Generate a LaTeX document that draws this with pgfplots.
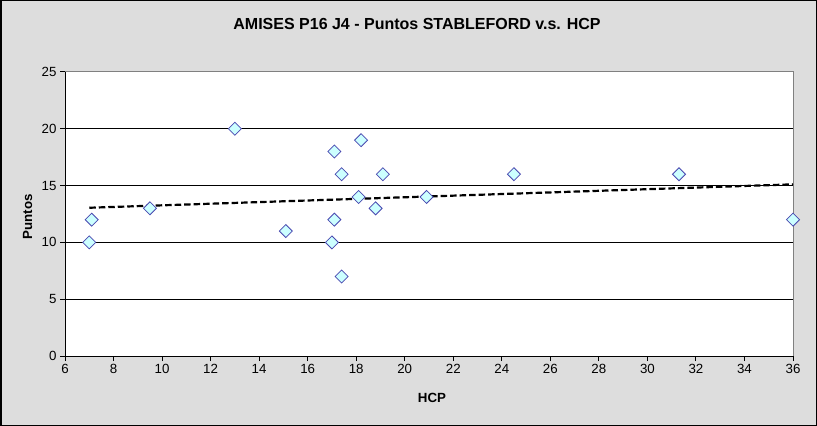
\documentclass[border=0pt]{standalone}
\usepackage{pgfplots}
\pgfplotsset{compat=1.18}
\usepackage{fontspec}
\setmainfont{Liberation Sans}
\definecolor{chartbg}{RGB}{221,221,221}
\definecolor{mkfill}{RGB}{204,255,255}
\definecolor{mkedge}{RGB}{72,72,176}
\begin{document}
\begin{tikzpicture}
\useasboundingbox (0,0) rectangle (817bp,426bp);
\fill[chartbg] (0,0) rectangle (817bp,426bp);
\draw[black, line width=1.5bp] (0.75bp,0.75bp) rectangle (816.25bp,425.25bp);
\begin{axis}[
 at={(65bp,70bp)}, anchor=south west,
 scale only axis, width=728bp, height=284bp,
 xmin=6, xmax=36, ymin=0, ymax=25,
 xtick={6,8,...,36}, ytick={0,25}, extra y ticks={5,10,15,20},
 extra y tick style={grid=major},
 grid style={black, line width=1bp},
 axis x line*=bottom, axis y line*=left,
 axis line style={black, line width=1bp, -},
 tick align=outside, major tick length=5bp,
 tick style={black, line width=1bp},
 axis background/.style={fill=white},
 font=\fontsize{13.3bp}{15bp}\selectfont,
 /pgf/number format/assume math mode=true,
 clip=false,
]
\draw[gray, line width=1bp] (rel axis cs:0,1) -- (rel axis cs:1,1) -- (rel axis cs:1,0);
\addplot[only marks, mark=square*, mark size=4.6bp,
  mark options={rotate=45, fill=mkfill, draw=mkedge, line width=0.8bp}]
  coordinates {
  (7.0,10) (7.1,12) (9.5,13) (13.0,20) (15.1,11) (17.0,10) (17.1,12) (17.1,18)
  (17.4,7) (17.4,16) (18.1,14) (18.2,19) (18.8,13) (19.1,16) (20.9,14)
  (24.5,16) (31.3,16) (36.0,12)
  };
\addplot[black, line width=2.2bp, dash pattern=on 6.5bp off 3bp]
  coordinates {(7,13.05) (36,15.11)};
\end{axis}
\node[anchor=base, font=\bfseries\fontsize{16bp}{19bp}\selectfont] at (417bp,396bp)
  {AMISES P16 J4 - Puntos STABLEFORD v.s. HCP};
\node[anchor=base, font=\bfseries\fontsize{13.3bp}{16bp}\selectfont] at (432bp,24bp) {HCP};
\node[anchor=base, rotate=90, font=\bfseries\fontsize{13.3bp}{16bp}\selectfont] at (32bp,209bp) {Puntos};
\end{tikzpicture}
\end{document}
